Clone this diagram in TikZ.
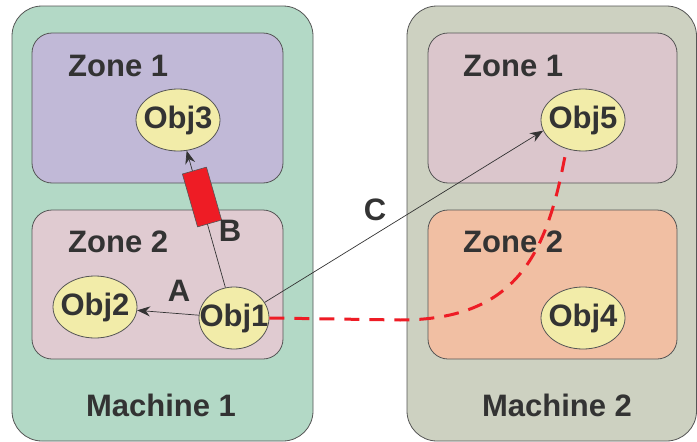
\documentclass[tikz,border=0pt]{standalone}
\usepackage{fontspec}
\setmainfont{Liberation Sans}
\usetikzlibrary{shapes.geometric,arrows.meta}
\definecolor{mOne}{HTML}{B3D9C6}
\definecolor{mTwo}{HTML}{CDD1C1}
\definecolor{zPurple}{HTML}{C1B9D7}
\definecolor{zPink}{HTML}{E0CBD1}
\definecolor{zPinkB}{HTML}{DBC6CC}
\definecolor{zPeach}{HTML}{F1BFA3}
\definecolor{objFill}{HTML}{F2ECA9}
\definecolor{txt}{HTML}{333333}
\definecolor{edgegray}{HTML}{555555}
\definecolor{redc}{HTML}{EE1C25}
\tikzset{
  machinebox/.style={draw=edgegray, line width=0.8pt, rounded corners=30pt},
  zonebox/.style={draw=edgegray, line width=0.8pt, rounded corners=20pt},
  objnode/.style={ellipse, draw=edgegray, line width=0.8pt, fill=objFill, inner sep=0pt,
     minimum width=84pt, minimum height=62pt, text=txt, font=\bfseries\fontsize{31}{32}\selectfont},
  lbl/.style={text=txt, font=\bfseries\fontsize{31}{32}\selectfont, inner sep=0pt},
  conn/.style={draw=txt, line width=0.7pt, -{Stealth[length=13pt,width=10pt]}},
  reddash/.style={draw=redc, line width=3pt, dash pattern=on 15pt off 10pt},
}
\newcommand{\objtxt}[1]{\makebox[0pt]{#1}}
\begin{document}
\begin{tikzpicture}[x=1pt,y=-1pt]
\useasboundingbox (0,0) rectangle (697,442);
% machines
\path[machinebox, fill=mOne] (12,6) rectangle (313,441);
\path[machinebox, fill=mTwo] (407,6) rectangle (696.5,441);
% zones
\path[zonebox, fill=zPurple] (32,33) rectangle (283,183);
\path[zonebox, fill=zPink] (32,210) rectangle (283,359);
\path[zonebox, fill=zPinkB] (428,33) rectangle (677,183);
\path[zonebox, fill=zPeach] (428,210) rectangle (677,359);
% labels
\node[lbl, anchor=west] (z11) at (68,66) {Zone 1};
\node[lbl, anchor=west] (z12) at (68,242) {Zone 2};
\node[lbl, anchor=west] (z21) at (463,66) {Zone 1};
\node[lbl, anchor=west] (z22) at (463,242) {Zone 2};
\node[lbl] (m1) at (161,405) {Machine 1};
\node[lbl] (m2) at (557,405) {Machine 2};
% objects
\node[objnode] (Obj3) at (178,120) {\objtxt{Obj3}};
\node[objnode] (Obj2) at (95,307) {\objtxt{Obj2}};
\node[objnode, minimum width=70pt] (Obj1) at (234,318) {\objtxt{Obj1}};
\node[objnode] (Obj5) at (583,120) {\objtxt{Obj5}};
\node[objnode] (Obj4) at (583,318) {\objtxt{Obj4}};
% connectors
\draw[conn] (Obj1) -- (Obj2);
\draw[conn] (Obj1) -- (Obj3);
\draw[conn] (Obj1.27) -- (Obj5.195);
\node[draw=edgegray, line width=0.6pt, fill=redc, minimum width=25pt, minimum height=55pt,
      inner sep=0pt, rotate=16] (lock) at (202,197) {};
\coordinate (bend) at (400,320);
\draw[reddash] (Obj1.east) -- (bend) .. controls (520,320) and (548,250) .. (Obj5.240);
% edge labels
\node[lbl] (la) at (179,291) {A};
\node[lbl] (lb) at (230,231) {B};
\node[lbl] (lc) at (375,210) {C};
\end{tikzpicture}
\end{document}
